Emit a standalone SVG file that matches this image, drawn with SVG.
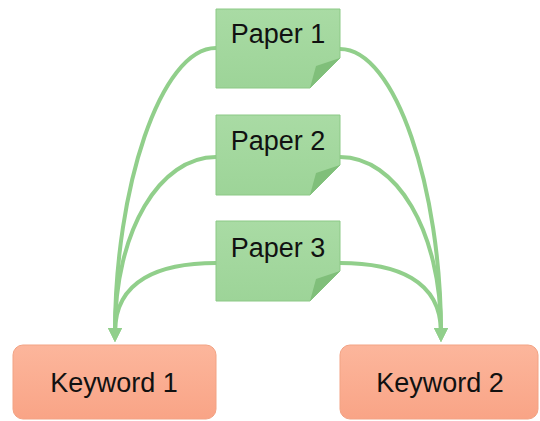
<svg xmlns="http://www.w3.org/2000/svg" width="540" height="421" viewBox="0 0 540 421">
<defs>
<linearGradient id="gp" x1="0" y1="0" x2="0" y2="1"><stop offset="0" stop-color="#a9dba4"/><stop offset="1" stop-color="#9dd498"/></linearGradient>
<linearGradient id="gk" x1="0" y1="0" x2="0" y2="1"><stop offset="0" stop-color="#fcb69c"/><stop offset="1" stop-color="#f9a486"/></linearGradient>
<marker id="ah" viewBox="0 0 10 10" refX="3" refY="5" markerWidth="3.6" markerHeight="3.6" orient="auto" markerUnits="strokeWidth"><path d="M0,0 L10,5 L0,10 Z" fill="#91cf8b"/></marker>
</defs>
<style>
.c{fill:none;stroke:#91cf8b;stroke-width:4;stroke-linecap:round}
.p{fill:url(#gp);stroke:#8cc986;stroke-width:1}
.f{fill:#80bf7a}
.k{fill:url(#gk);stroke:#f2a384;stroke-width:1}
.t{font-family:"Liberation Sans",Arial,sans-serif;font-size:27px;fill:#111;text-anchor:middle}
</style>
<g id="connectors">
<path class="c" d="M216,48 C160,48 115,190 115,332" marker-end="url(#ah)"/>
<path class="c" d="M216,157 C160,157 115,230 115,332" marker-end="url(#ah)"/>
<path class="c" d="M216,263 C160,263 115,280 115,332" marker-end="url(#ah)"/>
<path class="c" d="M340,49 C396,49 441,190 441,332" marker-end="url(#ah)"/>
<path class="c" d="M340,157 C396,157 441,230 441,332" marker-end="url(#ah)"/>
<path class="c" d="M340,263 C396,263 441,280 441,332" marker-end="url(#ah)"/>
</g>
<g id="paper1">
<path class="p" d="M216,9 H340 V58 L310,88 H216 Z"/>
<path class="f" d="M340,58 L310,88 L316,66 Z"/>
<text class="t" x="278" y="43">Paper 1</text>
</g>
<g id="paper2">
<path class="p" d="M216,115 H340 V165 L310,195 H216 Z"/>
<path class="f" d="M340,165 L310,195 L316,173 Z"/>
<text class="t" x="278" y="150">Paper 2</text>
</g>
<g id="paper3">
<path class="p" d="M216,221 H340 V271 L310,301 H216 Z"/>
<path class="f" d="M340,271 L310,301 L316,279 Z"/>
<text class="t" x="278" y="257">Paper 3</text>
</g>
<g id="keyword1">
<rect class="k" x="13" y="345" width="203" height="74" rx="10"/>
<text class="t" x="114" y="392">Keyword 1</text>
</g>
<g id="keyword2">
<rect class="k" x="340" y="345" width="198" height="74" rx="10"/>
<text class="t" x="440" y="392">Keyword 2</text>
</g>
</svg>
